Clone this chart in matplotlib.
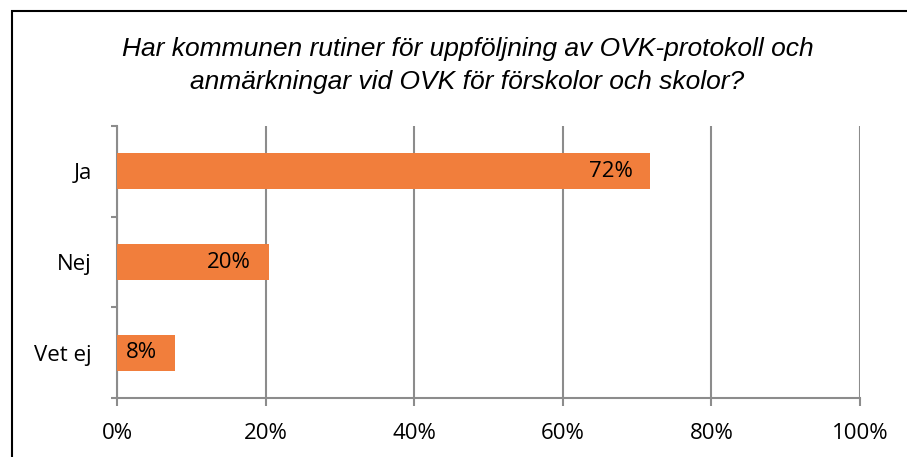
import matplotlib
matplotlib.use('Agg')
import matplotlib.pyplot as plt
from matplotlib.patches import Rectangle
from matplotlib.ticker import PercentFormatter, FixedLocator

# data
categories = ['Ja', 'Nej', 'Vet ej']
values = [0.718, 0.204, 0.078]
bar_labels = ['72%', '20%', '8%']
xticks = [0, 0.2, 0.4, 0.6, 0.8, 1.0]
title = 'Har kommunen rutiner för uppföljning av OVK-protokoll och\nanmärkningar vid OVK för förskolor och skolor?'

BAR = '#F17E3C'
GRID = '#8C8C8C'
LABEL_FONT = 'Open Sans'

fig = plt.figure(figsize=(9.07, 4.57), dpi=100)
ax = fig.add_axes([117 / 907, 1 - 398 / 457, (860 - 117) / 907, (398 - 126) / 457])

ypos = list(range(len(categories)))
ax.barh(ypos, values, height=0.4, color=BAR, zorder=3)
for y, v, lab in zip(ypos, values, bar_labels):
    ax.text(v - 0.024, y, lab, ha='right', va='center', fontsize=16,
            family=LABEL_FONT, color='black', zorder=4)

ax.set_xlim(0, 1)
ax.set_ylim(len(categories) - 0.5, -0.5)
ax.set_xticks(xticks)
ax.xaxis.set_major_formatter(PercentFormatter(1.0, decimals=0))
ax.set_yticks(ypos)
ax.set_yticklabels(categories)
ax.yaxis.set_minor_locator(FixedLocator([-0.5, 0.5, 1.5, 2.5]))

ax.grid(axis='x', color=GRID, linewidth=1.5, zorder=0)
for side in ['top', 'right']:
    ax.spines[side].set_visible(False)
for side in ['left', 'bottom']:
    ax.spines[side].set_color(GRID)
    ax.spines[side].set_linewidth(1.5)

ax.tick_params(axis='x', length=6, width=1.5, color=GRID, pad=12, labelsize=16)
ax.tick_params(axis='y', which='major', length=0, pad=18, labelsize=16)
ax.tick_params(axis='y', which='minor', length=4.5, width=1.5, color=GRID)
for lab in ax.get_xticklabels() + ax.get_yticklabels():
    lab.set_family(LABEL_FONT)

fig.text(467.5 / 907, 1 - 37 / 457, title, ha='center', va='top', fontsize=19,
         style='italic', family='Liberation Sans', linespacing=1.45)

# outer chart border
fig.patches.append(Rectangle((12 / 907, -0.2), 1.2, 0.2 + (457 - 11) / 457,
                             transform=fig.transFigure, fill=False,
                             edgecolor='black', linewidth=1.5))

fig.savefig('out.png', dpi=100)
